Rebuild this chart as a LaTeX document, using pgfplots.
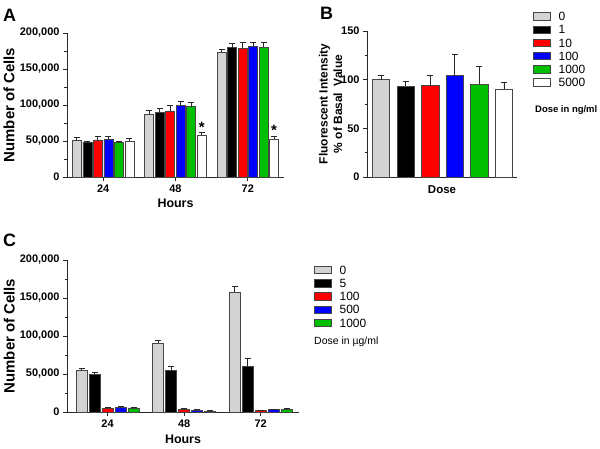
\documentclass[border=0pt]{standalone}
\usepackage{fontspec}
\setmainfont{Liberation Sans}
\usepackage{pgfplots}
\usepackage{pgfplotstable}
\pgfplotsset{compat=1.18}
\definecolor{lgray}{RGB}{211,211,211}
\definecolor{mygreen}{RGB}{0,190,0}
\definecolor{edge}{RGB}{70,70,70}
\definecolor{axcol}{RGB}{40,40,40}

% Panel A: cells vs hours (x: 0=24h, 1=48h, 2=72h)
\pgfplotstableread{
x  g      ge   k      ke   r      re   b      be   gr     gre  w     we
0  51000  3500 47700  2300 51500  4500 52000  4000 47700  2000 50000 3000
1  87500  5500 90000  5000 91700  7000 100000 4600 97600  5600 58000 4000
2  173000 4800 179500 6000 178500 8000 181000 6000 180500 6500 52500 3500
}\tabA

% Panel C
\pgfplotstableread{
x  g      ge   k     ke    r    re   b    be  gr   gre
0  54400  3000 50000 2600  4800 1000 6000 800 5300 800
1  90400  3500 54400 5200  3500 800  2600 800 1300 500
2  157500 7400 59600 11000 1800 800  3000 800 3500 800
}\tabC

\pgfplotsset{
  panel/.style={
    scale only axis, anchor=south west,
    axis x line*=bottom, axis y line*=left,
    axis line style={line width=0.8bp, axcol},
    every tick/.style={line width=0.8bp, axcol},
    tick align=outside,
    major tick length=4bp, minor tick length=2.5bp,
    tick label style={font=\bfseries\fontsize{11}{11}\selectfont},
    /pgf/number format/assume math mode=true,
    ymin=0, clip=false,
    error bars/y dir=plus, error bars/y explicit,
    error bars/error bar style={line width=0.9bp, axcol},
    error bars/error mark options={rotate=90, mark size=3bp, line width=0.9bp, axcol},
    xlabel style={font=\bfseries\fontsize{12.5}{12.5}\selectfont, inner sep=0pt, anchor=base},
    ylabel style={font=\bfseries\fontsize{15}{15}\selectfont, inner sep=0pt, anchor=base},
  },
  bx/.style={fill=#1, draw=edge, line width=0.6bp},
  legbox/.style={legend image code/.code={\draw[##1, draw=edge, line width=0.6bp] (0bp,0.6bp) rectangle (16.5bp,8.1bp); \path (25bp,0bp);}},
  mylegend/.style={legend style={draw=none, fill=none, inner sep=0pt, outer sep=0pt, row sep=0pt,
     font=\fontsize{12}{12}\selectfont,
     nodes={inner sep=0pt, text height=9.5bp, text depth=3.7bp},
     cells={anchor=base west}}},
}

\begin{document}
\begin{tikzpicture}
\useasboundingbox (0,0) rectangle (600bp,-449bp);

% ---------------- Panel A ----------------
\begin{axis}[panel, at={(67bp,-177bp)}, width=217bp, height=144bp,
  xmin=-0.5, xmax=2.5, ymax=200000,
  ybar=1.5bp, bar width=9bp,
  xtick={0,1,2}, xticklabels={24,48,72},
  ytick={0,50000,100000,150000,200000}, minor y tick num=1,
  scaled y ticks=false,
  yticklabel style={/pgf/number format/.cd, fixed, 1000 sep={,}},
  xlabel={Hours}, ylabel={Number of Cells},
  xlabel style={at={(axis description cs:0.5,-0.215)}},
  ylabel style={at={(axis description cs:-0.242,0.5)}},
]
\addplot[bx=lgray] table[x=x, y=g, y error=ge]{\tabA};
\addplot[bx=black] table[x=x, y=k, y error=ke]{\tabA};
\addplot[bx=red] table[x=x, y=r, y error=re]{\tabA};
\addplot[bx=blue] table[x=x, y=b, y error=be]{\tabA};
\addplot[bx=mygreen] table[x=x, y=gr, y error=gre]{\tabA};
\addplot[bx=white] table[x=x, y=w, y error=we]{\tabA};
\node[font=\bfseries\fontsize{15}{15}\selectfont, anchor=base, inner sep=0pt] at ([xshift=26.25bp]axis cs:1,61500) {*};
\node[font=\bfseries\fontsize{15}{15}\selectfont, anchor=base, inner sep=0pt] at ([xshift=26.25bp]axis cs:2,57000) {*};
\end{axis}

% ---------------- Panel B ----------------
\begin{axis}[panel, at={(367bp,-177bp)}, width=150bp, height=146bp,
  xmin=-0.57, xmax=5.53, ymax=150,
  xtick=\empty, ytick={0,50,100,150}, minor y tick num=1,
  xlabel={Dose}, ylabel={Fluorescent Intensity\\\%~of Basal\ \ Value},
  xlabel style={font=\bfseries\fontsize{11.5}{11.5}\selectfont, at={(axis description cs:0.5,-0.1096)}},
  ylabel style={font=\bfseries\fontsize{12}{14.5}\selectfont, align=center, anchor=center, at={(axis description cs:-0.243,0.5)}},
  mylegend, legend style={at={(axis description cs:1.1067,1.135)}, anchor=north west},
  legend entries={0,1,10,100,1000,5000},
]
\addplot[ybar, bar width=17.5bp, bar shift=0pt, bx=lgray, legbox] coordinates {(0,100) +- (0,4.4)};
\addplot[ybar, bar width=17.5bp, bar shift=0pt, bx=black, legbox] coordinates {(1,93.6) +- (0,5)};
\addplot[ybar, bar width=17.5bp, bar shift=0pt, bx=red, legbox] coordinates {(2,94) +- (0,10)};
\addplot[ybar, bar width=17.5bp, bar shift=0pt, bx=blue, legbox] coordinates {(3,104) +- (0,21.5)};
\addplot[ybar, bar width=17.5bp, bar shift=0pt, bx=mygreen, legbox] coordinates {(4,95.6) +- (0,18.4)};
\addplot[ybar, bar width=17.5bp, bar shift=0pt, bx=white, legbox] coordinates {(5,90.5) +- (0,6.5)};
\end{axis}

% ---------------- Panel C ----------------
\begin{axis}[panel, at={(67bp,-412bp)}, width=232bp, height=152bp,
  xmin=-0.53, xmax=2.5, ymax=200000,
  ybar=2bp, bar width=11bp,
  xtick={0,1,2}, xticklabels={24,48,72},
  ytick={0,50000,100000,150000,200000}, minor y tick num=1,
  scaled y ticks=false,
  yticklabel style={/pgf/number format/.cd, fixed, 1000 sep={,}},
  xlabel={Hours}, ylabel={Number of Cells},
  xlabel style={at={(axis description cs:0.5,-0.21)}},
  ylabel style={at={(axis description cs:-0.226,0.5)}},
  mylegend, legend style={at={(axis description cs:1.0647,0.9684)}, anchor=north west},
  legend entries={0,5,100,500,1000},
]
\addplot[bx=lgray, legbox] table[x=x, y=g, y error=ge]{\tabC};
\addplot[bx=black, legbox] table[x=x, y=k, y error=ke]{\tabC};
\addplot[bx=red, legbox] table[x=x, y=r, y error=re]{\tabC};
\addplot[bx=blue, legbox] table[x=x, y=b, y error=be]{\tabC};
\addplot[bx=mygreen, legbox] table[x=x, y=gr, y error=gre]{\tabC};
\end{axis}

% panel letters and notes
\node[font=\bfseries\fontsize{18}{18}\selectfont, anchor=base west, inner sep=0pt] at (3bp,-21.5bp) {A};
\node[font=\bfseries\fontsize{18}{18}\selectfont, anchor=base west, inner sep=0pt] at (320bp,-19bp) {B};
\node[font=\bfseries\fontsize{18}{18}\selectfont, anchor=base west, inner sep=0pt] at (3bp,-246.5bp) {C};
\node[font=\bfseries\fontsize{9.5}{9.5}\selectfont, anchor=base west, inner sep=0pt] at (535bp,-112bp) {Dose in ng/ml};
\node[font=\fontsize{10.5}{10.5}\selectfont, anchor=base west, inner sep=0pt] at (314bp,-344bp) {Dose in µg/ml};
\end{tikzpicture}
\end{document}
